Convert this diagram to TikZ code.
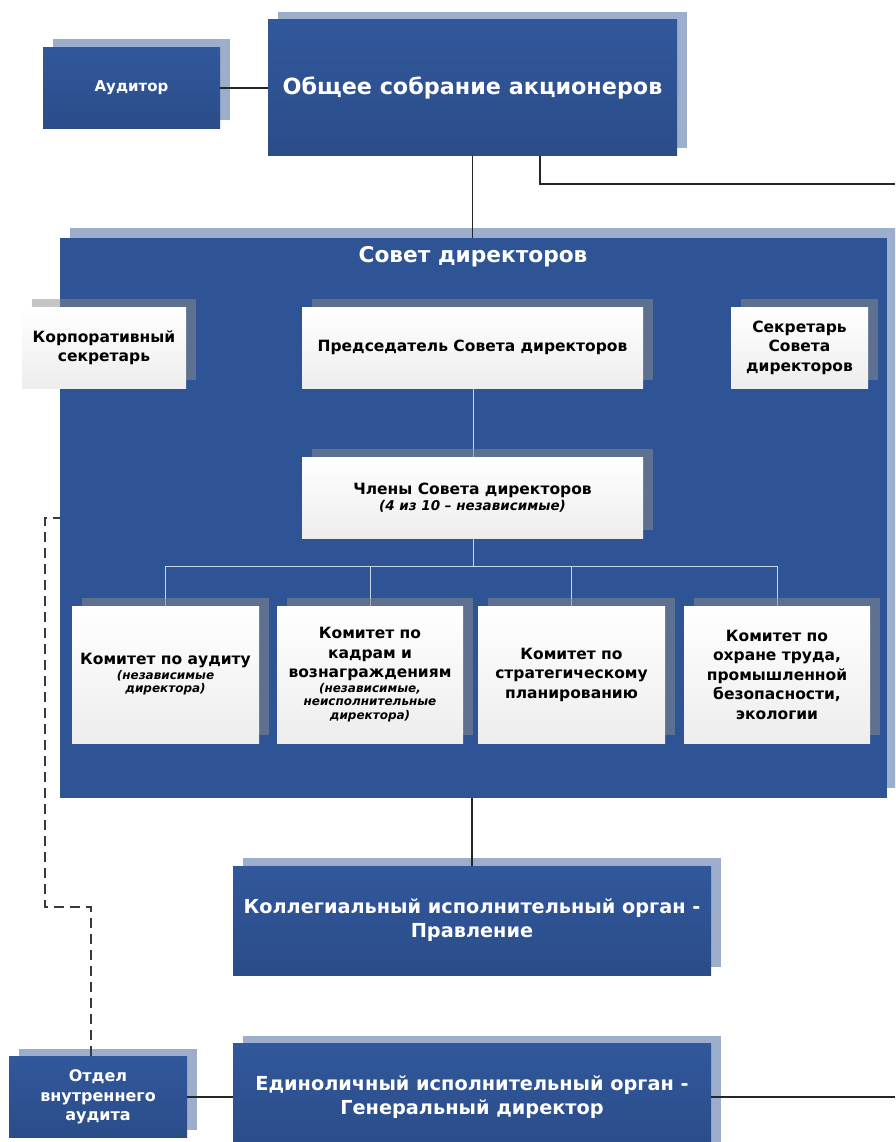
\documentclass[tikz,border=0pt]{standalone}
\usepackage{fontspec}
\setmainfont{DejaVu Sans}
\usepackage{xcolor}
\usepackage{tikz}
\usetikzlibrary{positioning,shadows,calc}
\definecolor{BoardBlue}{HTML}{2F5496}
\definecolor{BoxBlueTop}{HTML}{31589B}
\definecolor{BoxBlueBot}{HTML}{2B4C89}
\definecolor{ShadeBlue}{HTML}{9DAECC}
\definecolor{InnerLine}{HTML}{C9D6E6}
\definecolor{DashGray}{HTML}{3A3A3A}
\newcommand{\subnote}[1]{{\fontsize{12}{14}\selectfont\itshape #1}}

\begin{document}
\begin{tikzpicture}[x=1pt,y=-1pt,
  bluebox/.style={rectangle,top color=BoxBlueTop,bottom color=BoxBlueBot,text=white,
    align=center,inner sep=0pt,
    drop shadow={shadow xshift=10pt,shadow yshift=8pt,fill=ShadeBlue,opacity=1}},
  whitebox/.style={rectangle,top color=white,bottom color=black!7,text=black,
    align=center,inner sep=0pt,
    drop shadow={shadow xshift=10pt,shadow yshift=8pt,fill=black!45,opacity=.5}},
  boardbox/.style={rectangle,fill=BoardBlue,inner sep=0pt,
    drop shadow={shadow xshift=10pt,shadow yshift=10pt,fill=ShadeBlue,opacity=1}},
  midtext/.style={font=\fontsize{15.5}{19.5}\selectfont\bfseries},
  bigtext/.style={font=\fontsize{19.3}{24}\selectfont\bfseries},
  link/.style={line width=1.1pt,black!85},
  innerlink/.style={line width=1pt,InnerLine},
  auditlink/.style={line width=1.2pt,DashGray,dash pattern=on 10pt off 6pt}
]
\clip (0,0) rectangle (895,1142);
\fill[white] (0,0) rectangle (895,1142);

\node[bluebox,font=\fontsize{15}{19.5}\selectfont\bfseries,minimum width=177pt,minimum height=81pt] (aud) at (131.5,88) {Аудитор};
\node[bluebox,font=\fontsize{22.3}{27}\selectfont\bfseries,minimum width=409pt,minimum height=136pt] (gsm) at (472.5,88) {Общее собрание акционеров};

\node[boardbox,minimum width=827pt,minimum height=560pt] (board) at (473.5,518) {};
\node[text=white,font=\fontsize{21.7}{26}\selectfont\bfseries] (boardtitle) at (473,257) {Совет директоров};

\coordinate (bus) at (473,566);
\draw[innerlink] (bus) -| (473,538);
\foreach \c/\xx in {com1/165.5,com2/370,com3/571.5,com4/777}
  \draw[innerlink] (bus) -| (\xx,606);
\draw[innerlink] (473,388) -- (473,457);

\node[whitebox,midtext,minimum width=164pt,minimum height=81pt] (corpsec) at (104,347.5) {Корпоративный\\секретарь};
\node[whitebox,midtext,minimum width=341pt,minimum height=81pt] (chair) at (472.5,347.5) {Председатель Совета директоров};
\node[whitebox,midtext,minimum width=137pt,minimum height=81pt] (bodsec) at (799.5,347.5) {Секретарь\\Совета\\директоров};
\node[whitebox,midtext,minimum width=341pt,minimum height=81pt] (members) at (472.5,497.5) {Члены Совета директоров\\[-4pt]{\fontsize{13.5}{15}\selectfont\itshape (4 из 10 – независимые)}};

\node[whitebox,midtext,minimum width=187pt,minimum height=137pt] (com1) at (165.5,674.5) {Комитет по аудиту\\[-5pt]\subnote{(независимые}\\[-6pt]\subnote{директора)}};
\node[whitebox,midtext,minimum width=186pt,minimum height=137pt] (com2) at (370,674.5) {Комитет по\\кадрам и\\вознаграждениям\\[-5pt]\subnote{(независимые,}\\[-6pt]\subnote{неисполнительные}\\[-6pt]\subnote{директора)}};
\node[whitebox,midtext,minimum width=187pt,minimum height=137pt] (com3) at (571.5,674.5) {Комитет по\\стратегическому\\планированию};
\node[whitebox,midtext,minimum width=186pt,minimum height=137pt] (com4) at (777,674.5) {Комитет по\\охране труда,\\промышленной\\безопасности,\\экологии};

\node[bluebox,bigtext,minimum width=478pt,minimum height=109pt] (prav) at (472,920.5) {Коллегиальный исполнительный орган -\\Правление};
\node[bluebox,bigtext,minimum width=478pt,minimum height=107pt] (gd) at (472,1097) {Единоличный исполнительный орган -\\Генеральный директор};
\node[bluebox,font=\fontsize{16}{19.5}\selectfont\bfseries,minimum width=178pt,minimum height=81pt] (ia) at (98,1097) {Отдел\\внутреннего\\аудита};

\coordinate (exitA) at (895,184);
\coordinate (exitB) at (895,1097);
\coordinate (dashturn) at (45,907);

\draw[link] (aud.east) -- (gsm.west);
\draw[link] (gsm.south) -- (gsm.south |- board.north);
\draw[link] ([xshift=67.5pt]gsm.south) |- (exitA);
\draw[link] (board.south -| prav.north) -- (prav.north);
\draw[link] (ia.east) -- (gd.west);
\draw[link] (gd.east) -- (exitB);
\draw[auditlink] ([xshift=-7pt]ia.north) |- (dashturn) |- (board.west);
\end{tikzpicture}
\end{document}
